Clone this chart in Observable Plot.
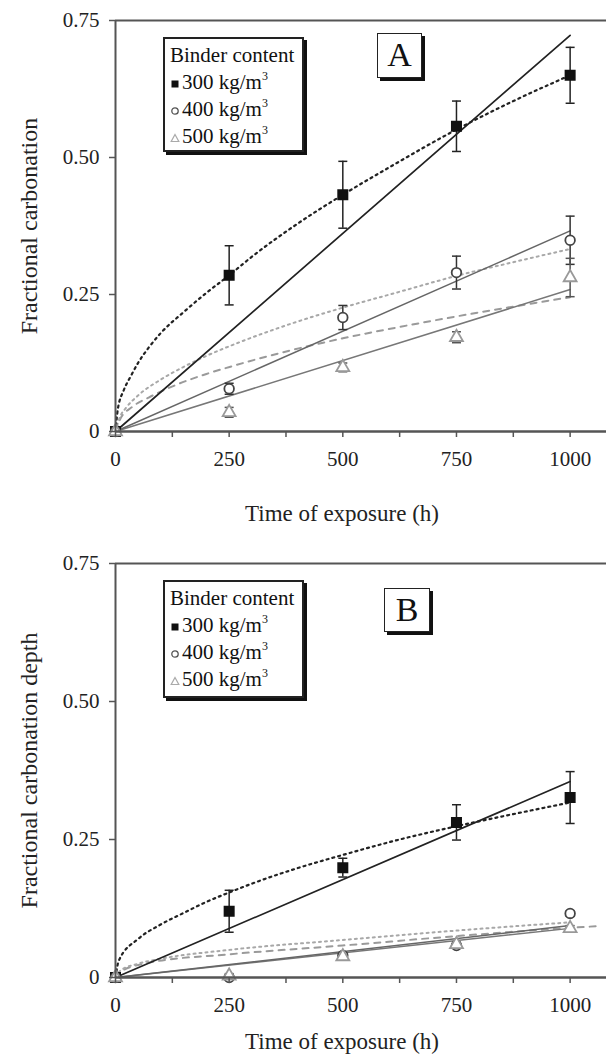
<!DOCTYPE html>
<html><head><meta charset="utf-8">
<script src="https://cdn.jsdelivr.net/npm/d3@7"></script>
<script src="https://cdn.jsdelivr.net/npm/@observablehq/plot@0.6"></script>
<style>
body{margin:0;background:#fff;}
#wrap{width:608px;}
.panel{position:relative;width:608px;}
.panel svg text{font-family:"Liberation Serif","Times New Roman",serif;}
.legend{position:absolute;border:2px solid #222;box-shadow:3px 3px 0 #111;background:#fff;font-family:"Liberation Serif",serif;font-size:21px;color:#111;line-height:27px;padding:3px 0 0 5px;box-sizing:border-box;white-space:nowrap;}
.legend sup{font-size:12px;line-height:0;vertical-align:9px;}
.legend svg{vertical-align:middle;margin-right:2px;}
.tag{position:absolute;border:1.5px solid #222;box-shadow:3px 3px 0 #111;background:#fff;font-family:"Liberation Serif",serif;font-size:34px;text-align:center;box-sizing:border-box;color:#111;}
</style></head><body><div id="wrap"></div>
<script>
// ---------- data ----------
const times = [0, 250, 500, 750, 1000];
const binders = ["300 kg/m3", "400 kg/m3", "500 kg/m3"];
const yTicks = [0, 0.25, 0.5, 0.75];
const xTicks = [0, 125, 250, 375, 500, 625, 750, 875, 1000];

// Panel A: fractional carbonation (mean, error)
const aMean300 = [0, 0.285, 0.432, 0.557, 0.650];
const aErr300  = [0, 0.054, 0.061, 0.046, 0.051];
const aMean400 = [0, 0.078, 0.208, 0.290, 0.349];
const aErr400  = [0, 0.010, 0.022, 0.030, 0.044];
const aMean500 = [0, 0.035, 0.117, 0.172, 0.281];
const aErr500  = [0, 0.009, 0.008, 0.010, 0.035];
// fitted curves (time, value)
const aLin300 = [[0, 0], [1000, 0.723]];
const aLin400 = [[0, 0], [1000, 0.366]];
const aLin500 = [[0, 0], [1000, 0.259]];
const aPow300 = [[0, 0], [5, 0.04], [18, 0.075], [33, 0.1], [51, 0.127], [73, 0.153], [100, 0.18], [150, 0.218], [200, 0.253], [250, 0.285], [300, 0.319], [400, 0.379], [500, 0.432], [600, 0.481], [750, 0.551], [875, 0.603], [1000, 0.65]];
const aPow400 = [[0, 0], [10, 0.027], [22, 0.042], [50, 0.066], [100, 0.095], [150, 0.118], [200, 0.138], [270, 0.162], [380, 0.195], [500, 0.226], [625, 0.255], [750, 0.284], [875, 0.309], [1000, 0.333]];
const aPow500 = [[0, 0], [10, 0.022], [37, 0.045], [73, 0.062], [130, 0.084], [200, 0.105], [260, 0.12], [380, 0.147], [500, 0.17], [620, 0.19], [750, 0.21], [875, 0.228], [1000, 0.245]];

// Panel B: fractional carbonation depth
const bMean300 = [0, 0.120, 0.199, 0.281, 0.326];
const bErr300  = [0, 0.038, 0.017, 0.032, 0.047];
const bMean400 = [0, 0.000, 0.040, 0.058, 0.116];
const bErr400  = [0, 0.004, 0.004, 0.004, 0.005];
const bMean500 = [0, 0.003, 0.038, 0.060, 0.089];
const bErr500  = [0, 0.004, 0.004, 0.004, 0.005];
const bLin300 = [[0, 0], [1000, 0.355]];
const bLin400 = [[0, 0], [1000, 0.094]];
const bLin500 = [[0, 0], [1000, 0.089]];
const bPow300 = [[0, 0], [7, 0.03], [50, 0.07], [95, 0.094], [150, 0.117], [200, 0.137], [250, 0.154], [300, 0.17], [400, 0.198], [500, 0.222], [625, 0.25], [750, 0.274], [875, 0.296], [1000, 0.317]];
const bPow400 = [[0, 0], [10, 0.012], [50, 0.025], [100, 0.034], [250, 0.05], [500, 0.068], [750, 0.085], [1000, 0.1]];
const bPow500 = [[0, 0], [10, 0.01], [75, 0.027], [250, 0.042], [500, 0.058], [750, 0.075], [1000, 0.09], [1060, 0.093]];

// ---------- drawing ----------
const capSymbol = {draw(ctx, size) { const r = Math.sqrt(size / Math.PI); ctx.moveTo(-r, 0); ctx.lineTo(r, 0); }};
const FONT = '"Liberation Serif", "Times New Roman", serif';

function makePanel(cfg) {
  const styles = [
    {key: binders[0], mean: cfg.m300, err: cfg.e300, sym: "square", fill: "#111", stroke: "#111", bar: "#222"},
    {key: binders[1], mean: cfg.m400, err: cfg.e400, sym: "circle", fill: "#fff", stroke: "#444", bar: "#333"},
    {key: binders[2], mean: cfg.m500, err: cfg.e500, sym: "triangle", fill: "#fff", stroke: "#999", bar: "#555"}
  ];
  const marks = [
    Plot.ruleY([0.75], {stroke: "#555", strokeWidth: 2}),
    Plot.line(cfg.pow500, {curve: "monotone-x", stroke: "#9a9a9a", strokeWidth: 2, strokeDasharray: "6,6"}),
    Plot.line(cfg.pow400, {curve: "monotone-x", stroke: "#a8a8a8", strokeWidth: 2, strokeDasharray: "2,4"}),
    Plot.line(cfg.lin500, {stroke: "#777", strokeWidth: 1.5}),
    Plot.line(cfg.lin400, {stroke: "#666", strokeWidth: 1.5}),
    Plot.line(cfg.pow300, {curve: "monotone-x", stroke: "#222", strokeWidth: 2.2, strokeDasharray: "2,4"}),
    Plot.line(cfg.lin300, {stroke: "#222", strokeWidth: 1.7})
  ];
  for (const s of styles) {
    const pts = times.map((t, i) => ({t, v: s.mean[i], e: s.err[i]})).filter(d => d.e > 0);
    marks.push(Plot.ruleX(pts, {x: "t", y1: d => d.v - d.e, y2: d => d.v + d.e, stroke: s.bar, strokeWidth: 1.5}));
    marks.push(Plot.dot(pts, {x: "t", y: d => d.v + d.e, symbol: capSymbol, r: 4.5, stroke: s.bar, strokeWidth: 1.5}));
    marks.push(Plot.dot(pts, {x: "t", y: d => d.v - d.e, symbol: capSymbol, r: 4.5, stroke: s.bar, strokeWidth: 1.5}));
  }
  for (const s of styles) {
    const pts = times.map((t, i) => ({t, v: s.mean[i]}));
    marks.push(Plot.dot(pts, {x: "t", y: "v", symbol: s.sym, r: s.sym === "square" ? 5.2 : 4.8, fill: s.fill, stroke: s.stroke, strokeWidth: 1.8}));
  }
  marks.push(
    Plot.ruleX([0], {stroke: "#555", strokeWidth: 2}),
    Plot.ruleY([0], {stroke: "#555", strokeWidth: 2.5}),
    Plot.axisY({ticks: yTicks, tickFormat: d => d === 0 ? "0" : d3.format(".2f")(d), tickSize: 6, tickPadding: 10, stroke: "#555", strokeWidth: 1.5, fill: "#222",
      label: cfg.ylabel, labelAnchor: "center", labelOffset: 96, labelArrow: "none", fontSize: 21, fontFamily: FONT}),
    Plot.axisX({ticks: xTicks, tickFormat: d => d % 250 === 0 ? String(d) : "", tickSize: 6, tickPadding: 14, stroke: "#555", strokeWidth: 1.5, fill: "#222",
      label: "Time of exposure (h)", labelAnchor: "center", labelOffset: cfg.xLabelOffset, labelArrow: "none", fontSize: 21, fontFamily: FONT})
  );
  const chart = Plot.plot({
    width: 608, height: cfg.height,
    marginLeft: 115, marginRight: 2, marginTop: 20, marginBottom: cfg.marginBottom,
    x: {domain: [0, 1080]},
    y: {domain: [0, 0.75]},
    style: `font-family: ${FONT}; font-size: 21px; color: #222; background: #fff; overflow: visible;`,
    marks
  });
  // axis titles: slightly larger; x title centred under the 0–1000 span as in the original
  chart.querySelectorAll("g[aria-label='y-axis label'] text").forEach(t => t.setAttribute("font-size", 24));
  chart.querySelectorAll("g[aria-label='x-axis label']").forEach(g => {
    const tr = g.getAttribute("transform") || "";
    g.setAttribute("transform", (tr + " translate(-19,0)").trim());
    g.querySelectorAll("text").forEach(t => t.setAttribute("font-size", 23));
  });
  const div = document.createElement("div");
  div.className = "panel";
  div.style.height = cfg.height + "px";
  div.appendChild(chart);

  const lg = document.createElement("div");
  lg.className = "legend";
  Object.assign(lg.style, {left: cfg.legend[0] + "px", top: cfg.legend[1] + "px", width: cfg.legend[2] + "px", height: cfg.legend[3] + "px"});
  const symSvg = {
    square: '<svg width="10" height="10"><rect x="1.5" y="1.5" width="7" height="7" fill="#111"/></svg>',
    circle: '<svg width="10" height="10"><circle cx="5" cy="5" r="3.2" fill="#fff" stroke="#555" stroke-width="1.3"/></svg>',
    triangle: '<svg width="10" height="10"><path d="M5,1.5L8.8,8.5H1.2Z" fill="#fff" stroke="#aaa" stroke-width="1.2"/></svg>'
  };
  lg.innerHTML = '<div>Binder content</div>' + styles.map(s => {
    const [num, unit] = s.key.split(" ");
    return '<div>' + symSvg[s.sym] + num + ' ' + unit.slice(0, -1) + '<sup>' + unit.slice(-1) + '</sup></div>';
  }).join("");
  div.appendChild(lg);

  const tg = document.createElement("div");
  tg.className = "tag";
  tg.textContent = cfg.tag;
  Object.assign(tg.style, {left: cfg.tagPos[0] + "px", top: cfg.tagPos[1] + "px", width: cfg.tagPos[2] + "px", height: cfg.tagPos[3] + "px", lineHeight: (cfg.tagPos[3] - 3) + "px"});
  div.appendChild(tg);
  document.getElementById("wrap").appendChild(div);
}

makePanel({
  m300: aMean300, e300: aErr300, m400: aMean400, e400: aErr400, m500: aMean500, e500: aErr500,
  lin300: aLin300, lin400: aLin400, lin500: aLin500, pow300: aPow300, pow400: aPow400, pow500: aPow500,
  height: 543, marginBottom: 112, xLabelOffset: 89, ylabel: "Fractional carbonation",
  tag: "A", tagPos: [377, 33, 45, 45], legend: [163, 37, 141, 115]
});
makePanel({
  m300: bMean300, e300: bErr300, m400: bMean400, e400: bErr400, m500: bMean500, e500: bErr500,
  lin300: bLin300, lin400: bLin400, lin500: bLin500, pow300: bPow300, pow400: bPow400, pow500: bPow500,
  height: 517, marginBottom: 83, xLabelOffset: 71, ylabel: "Fractional carbonation depth",
  tag: "B", tagPos: [384, 45, 46, 44], legend: [163, 37, 141, 118]
});
</script></body></html>
